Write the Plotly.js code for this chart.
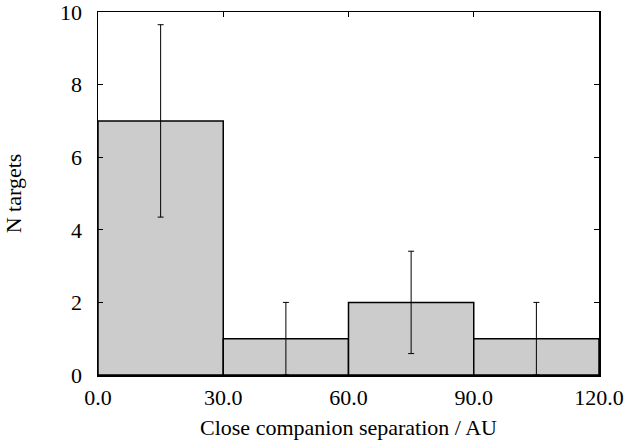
<!DOCTYPE html>
<html>
<head>
<meta charset="utf-8">
<script src="https://cdn.plot.ly/plotly-3.0.1.min.js"></script>
<style>
  html, body { margin: 0; padding: 0; background: #fff; }
  #chart { width: 629px; height: 446px; }
</style>
</head>
<body>
<div id="chart"></div>
<script>
// Histogram of close-companion separations (30 AU bins)
const binCentres = [15, 45, 75, 105];
const binWidths = [30, 30, 30, 30];
const counts = [7, 1, 2, 1];
const countErrors = [2.65, 1.0, 1.41, 1.0];
const xTickValues = [0, 30, 60, 90, 120];
const xTickLabels = ['0.0', '30.0', '60.0', '90.0', '120.0'];
const yTickValues = [0, 2, 4, 6, 8, 10];

const serif = 'Liberation Serif, Times New Roman, serif';

const trace = {
  type: 'bar',
  x: binCentres,
  y: counts,
  width: binWidths,
  marker: { color: '#cccccc', line: { color: '#000', width: 1.5 } },
  error_y: {
    type: 'data',
    array: countErrors,
    visible: true,
    color: '#000',
    thickness: 1,
    width: 3
  },
  hoverinfo: 'none'
};

const layout = {
  width: 629,
  height: 446,
  margin: { l: 98, r: 30, t: 12, b: 71 },
  paper_bgcolor: '#fff',
  plot_bgcolor: '#fff',
  showlegend: false,
  font: { family: serif, size: 22, color: '#000' },
  xaxis: {
    range: [0, 120],
    tickvals: xTickValues,
    ticktext: xTickLabels,
    ticks: 'inside',
    ticklen: 5,
    tickcolor: '#000',
    mirror: 'ticks',
    showline: true,
    linecolor: '#000',
    linewidth: 1.5,
    showgrid: false,
    zeroline: false,
    ticklabelstandoff: 2,
    ticklabeloverflow: 'allow',
    tickfont: { family: serif, size: 22 },
    title: { text: 'Close companion separation / AU', font: { family: serif, size: 22 }, standoff: 10 }
  },
  yaxis: {
    range: [0, 10],
    tickvals: yTickValues,
    ticks: 'inside',
    ticklen: 5,
    tickcolor: '#000',
    mirror: 'ticks',
    showline: true,
    linecolor: '#000',
    linewidth: 1.5,
    showgrid: false,
    zeroline: false,
    ticklabelstandoff: 10,
    ticklabeloverflow: 'allow',
    tickfont: { family: serif, size: 22 },
    title: { text: 'N targets', font: { family: serif, size: 22 }, standoff: 32 }
  }
};

Plotly.newPlot('chart', [trace], layout, { displayModeBar: false, staticPlot: true });
</script>
</body>
</html>
